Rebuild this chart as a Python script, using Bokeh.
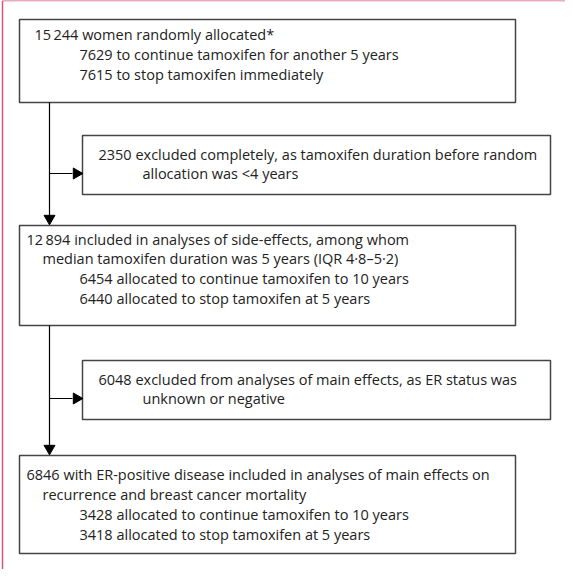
from bokeh.core.properties import value
from bokeh.embed import file_html
from bokeh.resources import INLINE
from bokeh.plotting import figure

# boxes: left, right, top, bottom (page pixels)
box_left = [27, 90, 27, 90, 27]
box_right = [523, 558, 523, 558, 523]
box_top = [27, 143, 233, 368, 463]
box_bottom = [110, 202, 333, 427, 561]

text_x = [42, 87, 87,
          106, 150,
          34, 50, 87, 87,
          106, 150,
          34, 50, 87, 87]
text_y = [42, 62, 82,
          162, 181,
          247, 266, 286, 306,
          387, 406,
          482, 502, 522, 542]
text_lines = [
    "15\u2009244 women randomly allocated*",
    "7629 to continue tamoxifen for another 5 years",
    "7615 to stop tamoxifen immediately",
    "2350 excluded completely, as tamoxifen duration before random",
    "allocation was <4 years",
    "12\u2009894 included in analyses of side-effects, among whom",
    "median tamoxifen duration was 5 years (IQR 4\u00b78\u20135\u00b72)",
    "6454 allocated to continue tamoxifen to 10 years",
    "6440 allocated to stop tamoxifen at 5 years",
    "6048 excluded from analyses of main effects, as ER status was",
    "unknown or negative",
    "6846 with ER-positive disease included in analyses of main effects on",
    "recurrence and breast cancer mortality",
    "3428 allocated to continue tamoxifen to 10 years",
    "3418 allocated to stop tamoxifen at 5 years",
]

p = figure(width=565, height=569, x_range=(8, 573), y_range=(577, 8),
           output_backend="svg", toolbar_location=None, min_border=0)
p.axis.visible = False
p.grid.visible = False
p.outline_line_color = None

# pink frame
p.line([10, 573], [8, 8], line_color="#d6587a", line_width=1.5)
p.line([10, 10], [8, 577], line_color="#d6587a", line_width=1.5)

p.quad(left=box_left, right=box_right, top=box_top, bottom=box_bottom,
       fill_color="white", line_color="#444444", line_width=1.5)

# connectors
p.segment(x0=[57, 57, 57, 57], y0=[110, 181, 333, 406],
          x1=[57, 80, 57, 80], y1=[223, 181, 453, 406],
          line_color="black", line_width=1.2)
p.triangle(x=[57, 57], y=[226, 456], size=11, angle=3.14159,
           fill_color="black", line_color="black")
p.triangle(x=[84, 84], y=[181, 406], size=11, angle=-1.5708,
           fill_color="black", line_color="black")

p.text(x=text_x, y=text_y, text=text_lines, text_font=value("Open Sans"),
       text_font_size="14.5px", text_baseline="middle", text_color="#222222")

open("out.html", "w").write(file_html(p, INLINE))
